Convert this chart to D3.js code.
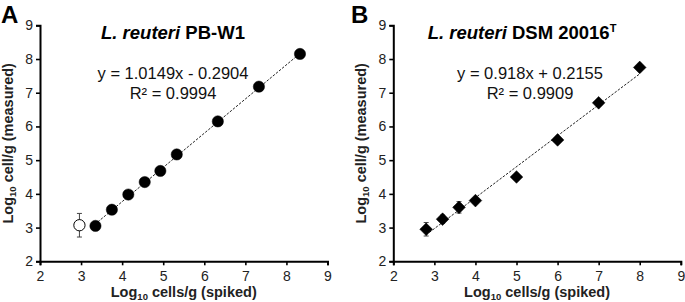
<!DOCTYPE html>
<html lang="en">
<head>
<meta charset="UTF-8">
<title>L. reuteri qPCR standard curves</title>
<script src="https://d3js.org/d3.v7.min.js"></script>
<style>
  body { margin: 0; background: #fff; }
  svg text { font-family: "Liberation Sans", Arial, sans-serif; }
</style>
</head>
<body>
<svg id="chart" width="685" height="302"></svg>
<script>
// panel A: L. reuteri PB-W1
const spikedA = [3.35, 3.75, 4.15, 4.55, 4.93, 5.33, 6.33, 7.33, 8.33];
const measuredA = [3.05, 3.53, 3.98, 4.35, 4.68, 5.17, 6.15, 7.18, 8.15];
const errA = [0.07, 0.1, 0.12, 0.05, 0.05, 0.05, 0.04, 0.04, 0.04];
// open point below detection range
const outlierA = [{ x: 2.96, y: 3.07, e: 0.35 }];
const fitA = { slope: 1.0149, icpt: -0.2904, x0: 3.33, x1: 8.35 };

// panel B: L. reuteri DSM 20016T
const spikedB = [2.8, 3.2, 3.6, 4.0, 5.0, 6.0, 7.0, 8.0];
const measuredB = [2.95, 3.25, 3.6, 3.8, 4.5, 5.6, 6.7, 7.75];
const errB = [0.2, 0.12, 0.17, 0.08, 0.05, 0.05, 0.05, 0.04];
const fitB = { slope: 0.918, icpt: 0.2155, x0: 2.8, x1: 8.0 };

const ticks = [2, 3, 4, 5, 6, 7, 8, 9];

const svg = d3.select("#chart");

function panel(opts) {
  const g = svg.append("g");
  const x = d3.scaleLinear().domain([2, 9]).range([opts.left, opts.left + 287.5]);
  const y = d3.scaleLinear().domain([2, 9]).range([261.3, 25.3]);

  // axes
  const xa = g.append("g").attr("transform", `translate(0,${y(2)})`)
    .call(d3.axisBottom(x).tickValues(ticks).tickSize(4).tickFormat(d3.format("d")));
  const ya = g.append("g").attr("transform", `translate(${x(2)},0)`)
    .call(d3.axisLeft(y).tickValues(ticks).tickSize(4).tickFormat(d3.format("d")));
  [xa, ya].forEach(a => {
    a.select(".domain").attr("stroke", "#000").attr("stroke-width", 2);
    a.selectAll(".tick line").attr("stroke", "#000").attr("stroke-width", 1.6);
    a.selectAll(".tick text").attr("font-size", 14).attr("fill", "#222")
      .attr("font-family", "Liberation Sans, Arial, sans-serif");
  });
  xa.selectAll(".tick text").attr("dy", "0.9em");
  ya.selectAll(".tick text").attr("x", -7);

  // regression line
  g.append("line")
    .attr("x1", x(opts.fit.x0)).attr("y1", y(opts.fit.slope * opts.fit.x0 + opts.fit.icpt))
    .attr("x2", x(opts.fit.x1)).attr("y2", y(opts.fit.slope * opts.fit.x1 + opts.fit.icpt))
    .attr("stroke", "#222").attr("stroke-width", 1).attr("stroke-dasharray", "2.5,1.5");

  const pts = opts.xs.map((v, i) => ({ x: v, y: opts.ys[i], e: opts.errs[i], open: false }))
    .concat((opts.extra || []).map(d => Object.assign({ open: true }, d)));

  // error bars
  const eb = g.selectAll(".eb").data(pts).enter().append("g")
    .attr("stroke", "#444").attr("stroke-width", 1);
  eb.append("line").attr("x1", d => x(d.x)).attr("x2", d => x(d.x))
    .attr("y1", d => y(d.y - d.e)).attr("y2", d => y(d.y + d.e));
  eb.append("line").attr("x1", d => x(d.x) - 2.5).attr("x2", d => x(d.x) + 2.5)
    .attr("y1", d => y(d.y + d.e)).attr("y2", d => y(d.y + d.e));
  eb.append("line").attr("x1", d => x(d.x) - 2.5).attr("x2", d => x(d.x) + 2.5)
    .attr("y1", d => y(d.y - d.e)).attr("y2", d => y(d.y - d.e));

  // markers (diamond = rotated square, as in Excel)
  const isDiamond = opts.shape === "diamond";
  const sym = d3.symbol().type(isDiamond ? d3.symbolSquare : d3.symbolCircle).size(isDiamond ? 80 : 100);
  g.selectAll(".pt").data(pts).enter().append("path")
    .attr("d", sym)
    .attr("transform", d => `translate(${x(d.x)},${y(d.y)})` + (isDiamond ? " rotate(45)" : ""))
    .attr("fill", d => d.open ? "#fff" : "#000")
    .attr("stroke", "#000").attr("stroke-width", d => d.open ? 1 : 0.5);

  // panel letter
  g.append("text").attr("x", opts.letterX).attr("y", 22.5)
    .attr("font-size", 24).attr("font-weight", "bold").text(opts.letter);

  // title
  const t = g.append("text").attr("x", opts.titleX).attr("y", 39)
    .attr("text-anchor", "middle").attr("font-size", 18.5).attr("font-weight", "bold");
  t.append("tspan").attr("font-style", "italic").text("L. reuteri");
  t.append("tspan").text(" " + opts.strain);
  if (opts.sup) t.append("tspan").attr("font-size", 11).attr("dy", -7).text(opts.sup);

  // equation
  g.append("text").attr("x", opts.eqX).attr("y", 79).attr("text-anchor", "middle")
    .attr("font-size", 16.5).attr("fill", "#111").text(opts.eq);
  g.append("text").attr("x", opts.eqX).attr("y", 99).attr("text-anchor", "middle")
    .attr("font-size", 16.5).attr("fill", "#111").text(opts.r2);

  // axis titles
  const xt = g.append("text").attr("x", x(5.5)).attr("y", 297).attr("text-anchor", "middle")
    .attr("font-size", 14.5).attr("font-weight", "bold").attr("fill", "#222");
  xt.append("tspan").text("Log");
  xt.append("tspan").attr("font-size", 9.5).attr("dy", 3).text("10");
  xt.append("tspan").attr("dy", -3).text(" cells/g (spiked)");

  const yt = g.append("text")
    .attr("transform", `translate(${opts.left - 27},${y(5.5)}) rotate(-90)`)
    .attr("text-anchor", "middle").attr("font-size", 14.5).attr("font-weight", "bold").attr("fill", "#222");
  yt.append("tspan").text("Log");
  yt.append("tspan").attr("font-size", 9.5).attr("dy", 3).text("10");
  yt.append("tspan").attr("dy", -3).text(" cell/g (measured)");
}

panel({
  left: 40, xs: spikedA, ys: measuredA, errs: errA, extra: outlierA, fit: fitA,
  shape: "circle", letter: "A", letterX: 1, titleX: 173, strain: "PB-W1",
  eqX: 173, eq: "y = 1.0149x - 0.2904", r2: "R² = 0.9994"
});
panel({
  left: 393.3, xs: spikedB, ys: measuredB, errs: errB, fit: fitB,
  shape: "diamond", letter: "B", letterX: 351, titleX: 522, strain: "DSM 20016", sup: "T",
  eqX: 530, eq: "y = 0.918x + 0.2155", r2: "R² = 0.9909"
});
</script>
</body>
</html>
